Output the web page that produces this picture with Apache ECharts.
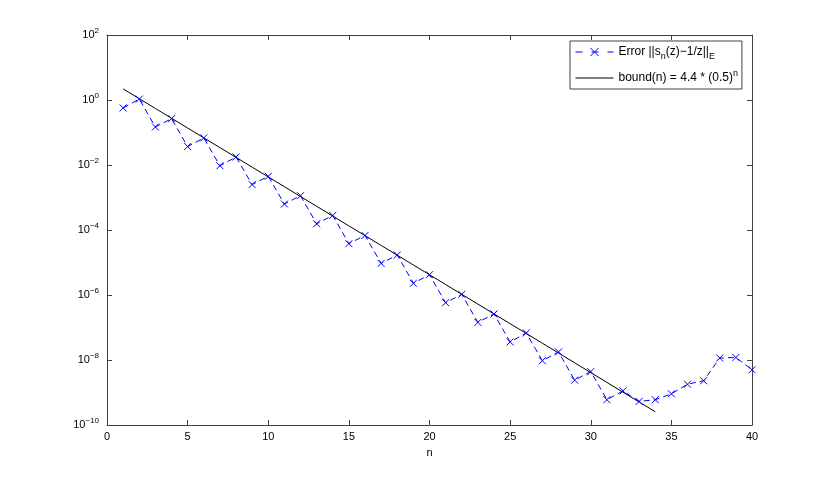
<!DOCTYPE html>
<html>
<head>
<meta charset="utf-8">
<script src="https://cdn.jsdelivr.net/npm/echarts@6/dist/echarts.min.js"></script>
<style>html,body{margin:0;padding:0;background:#fff}#c{width:830px;height:478px}</style>
</head>
<body>
<div id="c"></div>
<script>
const nValues = [1,2,3,4,5,6,7,8,9,10,11,12,13,14,15,16,17,18,19,20,21,22,23,24,25,26,27,28,29,30,31,32,33,34,35,36,37,38,39,40];
const errorValues = [0.57, 1.07, 0.148, 0.266, 0.037, 0.068, 0.0095, 0.0177, 0.0025, 0.0045,
  6.3e-4, 1.14e-3, 1.55e-4, 2.8e-4, 3.8e-5, 6.8e-5, 9.4e-6, 1.7e-5, 2.3e-6, 4.2e-6,
  5.8e-7, 1.05e-6, 1.44e-7, 2.6e-7, 3.6e-8, 6.8e-8, 9.5e-9, 1.77e-8, 2.4e-9, 4.4e-9,
  6.0e-10, 1.12e-9, 5.3e-10, 6.0e-10, 9.1e-10, 1.8e-9, 2.3e-9, 1.15e-8, 1.2e-8, 5.0e-9];
const boundN = [1,2,3,4,5,6,7,8,9,10,11,12,13,14,15,16,17,18,19,20,21,22,23,24,25,26,27,28,29,30,31,32,33,34];
const boundValues = [2.2, 1.1, 0.55, 0.275, 0.1375, 0.06875, 0.034375, 0.0171875, 8.59e-3, 4.30e-3,
  2.15e-3, 1.07e-3, 5.37e-4, 2.69e-4, 1.34e-4, 6.71e-5, 3.36e-5, 1.68e-5, 8.39e-6, 4.20e-6,
  2.10e-6, 1.05e-6, 5.25e-7, 2.62e-7, 1.31e-7, 6.56e-8, 3.28e-8, 1.64e-8, 8.20e-9, 4.10e-9,
  2.05e-9, 1.02e-9, 5.12e-10, 2.56e-10];
const xTicks = {min: 0, max: 40, interval: 5};
const yRange = {min: 1e-10, max: 1e2};

const FONT = '"Liberation Sans", Arial, sans-serif';
const AX = '#404040';
const chart = echarts.init(document.getElementById('c'), null, {renderer: 'canvas'});
const xMark = 'path://M0,0L10,10M10,0L0,10';

function yFmt(v) {
  const e = Math.round(Math.log10(v));
  return '{b|10}{s|' + String(e).replace('-', '\u2212') + '}';
}
const yRich = {
  b: {fontSize: 11, fontFamily: FONT, color: '#000'},
  s: {fontSize: 8, fontFamily: FONT, color: '#000', padding: [0, 0, 9, 0]}
};

chart.setOption({
  animation: false,
  backgroundColor: '#fff',
  grid: {left: 107, right: 78, top: 35, bottom: 53, containLabel: false},
  legend: {
    left: 570, top: 41, orient: 'vertical',
    backgroundColor: '#fff', borderColor: AX, borderWidth: 1,
    padding: [5, 4, 5, 5], itemGap: 8, itemWidth: 38, itemHeight: 10,
    textStyle: {
      fontFamily: FONT, fontSize: 12, color: '#000',
      rich: {
        a: {fontFamily: FONT, fontSize: 12, color: '#000'},
        sub: {fontFamily: FONT, fontSize: 9, color: '#000', padding: [9, 0, 0, 0]},
        sup: {fontFamily: FONT, fontSize: 9, color: '#000', padding: [0, 0, 9, 0]}
      }
    },
    formatter: function (name) {
      if (name === 'err') return '{a|Error ||s}{sub|n}{a|(z)\u22121/z||}{sub|E}';
      return '{a|bound(n) = 4.4 * (0.5)}{sup|n}';
    },
    data: [
      {name: 'err', lineStyle: {width: 1, type: [7, 9]}, itemStyle: {borderWidth: 1}},
      {name: 'bound', lineStyle: {width: 1}, itemStyle: {opacity: 0}}
    ]
  },
  xAxis: [{
    type: 'value', min: xTicks.min, max: xTicks.max, interval: xTicks.interval,
    name: 'n', nameLocation: 'middle', nameGap: 22,
    nameTextStyle: {fontFamily: FONT, fontSize: 11, color: '#000'},
    axisLine: {onZero: false, lineStyle: {color: AX, width: 1}},
    axisTick: {inside: true, length: 5, lineStyle: {color: AX}},
    axisLabel: {fontFamily: FONT, fontSize: 11, color: '#000', margin: 6},
    splitLine: {show: false}
  }, {
    type: 'value', position: 'top', min: xTicks.min, max: xTicks.max, interval: xTicks.interval,
    axisLine: {onZero: false, lineStyle: {color: AX, width: 1}},
    axisTick: {inside: true, length: 5, lineStyle: {color: AX}},
    axisLabel: {show: false}, splitLine: {show: false}
  }],
  yAxis: [{
    type: 'log', logBase: 100, min: yRange.min, max: yRange.max,
    axisLine: {onZero: false, lineStyle: {color: AX, width: 1}},
    axisTick: {inside: true, length: 5, lineStyle: {color: AX}},
    axisLabel: {formatter: yFmt, rich: yRich, margin: 8},
    minorTick: {show: false}, splitLine: {show: false}
  }, {
    type: 'log', logBase: 100, position: 'right', min: yRange.min, max: yRange.max,
    axisLine: {onZero: false, lineStyle: {color: AX, width: 1}},
    axisTick: {inside: true, length: 5, lineStyle: {color: AX}},
    axisLabel: {show: false}, splitLine: {show: false}
  }],
  series: [{
    name: 'err', type: 'line', xAxisIndex: 0, yAxisIndex: 0,
    data: nValues.map((n, i) => [n, errorValues[i]]),
    symbol: xMark, symbolSize: 7, showAllSymbol: true,
    itemStyle: {color: '#0000ff', borderColor: '#0000ff', borderWidth: 1},
    lineStyle: {color: '#0000ff', width: 1, type: [6, 4]},
    emphasis: {disabled: true}, z: 3
  }, {
    name: 'bound', type: 'line', xAxisIndex: 0, yAxisIndex: 0,
    data: boundN.map((n, i) => [n, boundValues[i]]),
    symbol: 'none', showSymbol: false,
    itemStyle: {color: '#000'},
    lineStyle: {color: '#000', width: 1},
    emphasis: {disabled: true}, z: 2
  }]
});
</script>
</body>
</html>
